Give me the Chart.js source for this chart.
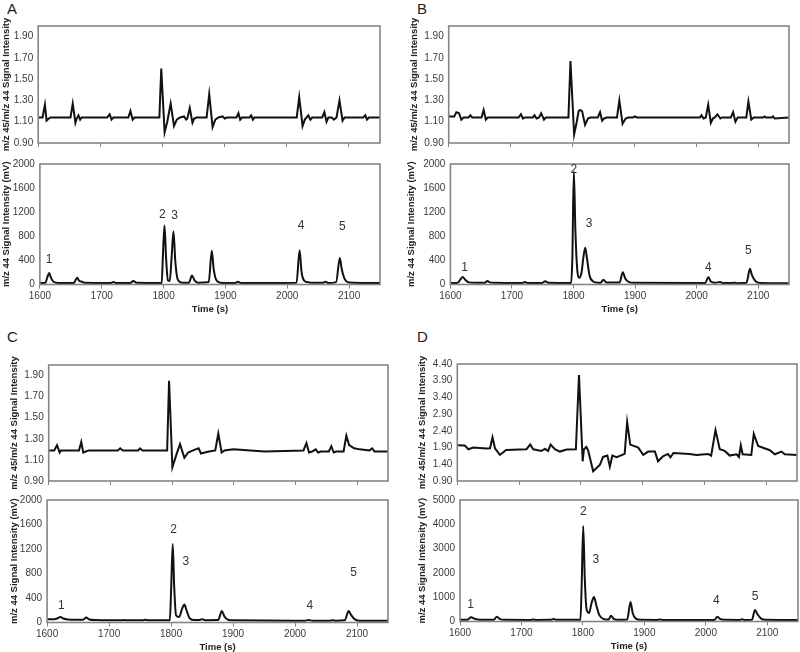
<!DOCTYPE html>
<html>
<head>
<meta charset="utf-8">
<script src="https://cdn.jsdelivr.net/npm/chart.js@4.4.0/dist/chart.umd.min.js"></script>
<style>
  body { margin: 0; background: #fff; }
  #page { position: relative; width: 800px; height: 652px; overflow: hidden; font-family: "Liberation Sans", Arial, sans-serif; }
  canvas { position: absolute; }
  .tag { position: absolute; font-size: 15px; color: #222; }
</style>
</head>
<body>
<div id="page">
  <div class="tag" style="left:7px;top:0px">A</div>
  <div class="tag" style="left:417px;top:0px">B</div>
  <div class="tag" style="left:7px;top:328px">C</div>
  <div class="tag" style="left:417px;top:328px">D</div>
</div>
<script>
// axis ticks
const timeTicks = [1600, 1700, 1800, 1900, 2000, 2100];
const ratioTicks = [0.9, 1.1, 1.3, 1.5, 1.7, 1.9];
const ratioTicksD = [0.9, 1.4, 1.9, 2.4, 2.9, 3.4, 3.9, 4.4];
const intTicks = [0, 400, 800, 1200, 1600, 2000];
const intTicksD = [0, 1000, 2000, 3000, 4000, 5000];
const peakNames = ["1", "2", "3", "4", "5"];

// [time (s), value]
const aRatio = [[1600,1.14],[1607,1.14],[1610.8,1.26],[1613.5,1.11],[1617,1.13],[1620,1.14],[1652,1.14],[1655.6,1.27],[1659.9,1.09],[1662,1.13],[1664.8,1.16],[1667.5,1.12],[1670,1.14],[1711,1.14],[1715,1.17],[1718,1.12],[1721,1.14],[1745,1.14],[1748.4,1.20],[1752,1.12],[1755,1.14],[1795,1.14],[1798,1.60],[1803.4,1.00],[1807.7,1.10],[1813.1,1.27],[1818.5,1.06],[1823,1.12],[1828,1.14],[1834.7,1.15],[1838,1.12],[1840,1.13],[1843.9,1.23],[1848.2,1.09],[1851,1.13],[1855,1.14],[1871,1.14],[1875.2,1.36],[1880.6,1.05],[1885,1.12],[1890,1.14],[1896.8,1.15],[1900,1.13],[1904,1.14],[1919,1.14],[1922.2,1.18],[1925,1.12],[1928,1.14],[1940,1.14],[1942.7,1.16],[1945.5,1.12],[1948,1.14],[2016,1.14],[2020,1.33],[2025.4,1.06],[2029,1.12],[2034.6,1.16],[2038,1.12],[2041,1.14],[2057,1.14],[2060.5,1.19],[2064,1.10],[2067,1.14],[2072.4,1.14],[2076,1.12],[2080,1.14],[2084.8,1.30],[2089.7,1.11],[2093,1.14],[2123,1.14],[2126.4,1.16],[2129,1.12],[2132,1.14],[2150,1.14]];
const aInt = [[1600,25],[1609,30],[1612,120],[1615,190],[1618,110],[1622,45],[1630,25],[1655,25],[1658,80],[1660.5,110],[1664,55],[1667,50],[1672,28],[1714,25],[1719,40],[1724,25],[1746,25],[1751,60],[1756,28],[1797,25],[1799,500],[1801.5,980],[1804,450],[1807,70],[1810,60],[1813,450],[1816,880],[1819,380],[1823,80],[1830,30],[1841,30],[1846,150],[1850,70],[1856,30],[1873,40],[1878,560],[1881,260],[1885,80],[1892,30],[1916,25],[1920,45],[1925,25],[2015,30],[2020,570],[2023,220],[2027,70],[2035,35],[2058,30],[2062,45],[2066,25],[2079,40],[2085,440],[2088,260],[2093,90],[2100,35],[2150,25]];
const aPeakT = [1615, 1798, 1817.7, 2022.5, 2089];
const aPeakV = [410, 1166, 1150, 977, 961];

const bRatio = [[1600,1.15],[1609,1.15],[1612.4,1.19],[1616.7,1.18],[1620.4,1.12],[1624,1.14],[1632,1.14],[1635,1.16],[1638,1.14],[1653,1.14],[1656.5,1.21],[1660,1.12],[1663,1.14],[1713,1.14],[1716.7,1.17],[1720,1.13],[1723,1.14],[1736,1.14],[1738.7,1.16],[1742,1.13],[1746,1.14],[1749.5,1.18],[1754,1.12],[1757,1.14],[1793.5,1.14],[1796.8,1.67],[1802.7,0.98],[1807,1.10],[1810,1.20],[1812.4,1.21],[1815.6,1.20],[1820.4,1.07],[1825,1.13],[1829,1.14],[1841,1.14],[1844.6,1.19],[1848,1.11],[1851,1.13],[1855,1.14],[1872,1.14],[1875.8,1.30],[1881,1.08],[1886,1.13],[1890,1.14],[1898,1.14],[1901,1.15],[1904,1.14],[2006,1.14],[2008.6,1.16],[2012,1.13],[2015.5,1.14],[2019.4,1.26],[2023.7,1.09],[2027,1.13],[2030,1.14],[2034.4,1.17],[2039,1.13],[2042,1.14],[2056,1.14],[2059.7,1.19],[2063.4,1.10],[2067,1.14],[2081,1.14],[2084.4,1.29],[2089,1.12],[2093,1.14],[2108,1.14],[2110.7,1.15],[2113,1.14],[2122,1.14],[2124.2,1.15],[2127,1.13],[2150,1.14]];
const bInt = [[1600,25],[1612,30],[1616,80],[1620,125],[1624,80],[1630,35],[1640,28],[1656,28],[1660,60],[1664,35],[1670,28],[1716,25],[1721,40],[1726,25],[1749,25],[1754,55],[1759,28],[1796,25],[1798,400],[1800.5,1880],[1803,900],[1806,250],[1809,110],[1813,200],[1816,450],[1819,610],[1822,420],[1826,150],[1832,50],[1840,30],[1844,30],[1848.6,80],[1853,35],[1875,35],[1880,205],[1884,100],[1890,40],[1898,28],[2014,25],[2019,125],[2023,50],[2030,30],[2038,40],[2043,25],[2058,25],[2062,30],[2066,22],[2081,30],[2086.5,260],[2090,150],[2096,50],[2104,25],[2150,22]];
const bPeakT = [1623, 1800.5, 1825.4, 2019, 2083.8];
const bPeakV = [286, 1900, 1015, 286, 567];

const cRatio = [[1600,1.19],[1609,1.19],[1613.5,1.24],[1617.8,1.17],[1620,1.19],[1649,1.19],[1652.8,1.27],[1656,1.17],[1660,1.18],[1665,1.19],[1712,1.19],[1715.9,1.21],[1720,1.19],[1745,1.19],[1748.2,1.21],[1752,1.19],[1792,1.19],[1795.1,1.85],[1800.5,1.03],[1807.5,1.16],[1812.9,1.25],[1819.9,1.12],[1826,1.17],[1834,1.19],[1843,1.21],[1846.9,1.16],[1853,1.17],[1860,1.18],[1870,1.19],[1874.9,1.35],[1880.3,1.17],[1885,1.19],[1899,1.20],[1950,1.18],[2013,1.19],[2017.8,1.26],[2022,1.17],[2027,1.18],[2032.9,1.20],[2036.7,1.17],[2041,1.18],[2054,1.18],[2058.2,1.23],[2062,1.17],[2066,1.18],[2078,1.18],[2082.5,1.33],[2087,1.24],[2095,1.21],[2104,1.20],[2120,1.19],[2124.5,1.21],[2128,1.18],[2150,1.18]];
const cInt = [[1600,55],[1612,55],[1617,70],[1621.5,90],[1626,65],[1634,50],[1658,45],[1663,80],[1668,50],[1680,40],[1720,35],[1725,40],[1730,35],[1754,35],[1758.6,45],[1763,35],[1798,35],[1800,500],[1802.7,1280],[1805,600],[1808,120],[1813,90],[1818,230],[1821.5,293],[1825,200],[1830,70],[1838,40],[1845,40],[1850,55],[1855,38],[1876,40],[1882,187],[1886,100],[1892,45],[1900,35],[2016,30],[2022,40],[2028,30],[2056,30],[2061,35],[2066,28],[2080,35],[2086.6,187],[2090,130],[2096,55],[2104,30],[2150,28]];
const cPeakT = [1623, 1804, 1824, 2023.7, 2094.6];
const cPeakV = [267, 1520, 997, 277, 810];

const dRatio = [[1600,1.97],[1612,1.96],[1618,1.85],[1626,1.90],[1647,1.87],[1653,1.88],[1657,2.21],[1661,1.88],[1669,1.68],[1679,1.83],[1712,1.85],[1718,1.99],[1723,1.85],[1736,1.80],[1742,1.86],[1747,1.80],[1751,1.99],[1758,1.85],[1766,1.78],[1777,1.84],[1792,1.85],[1797,4.07],[1803,1.49],[1805,1.85],[1809,1.92],[1812,1.80],[1820,1.19],[1831,1.39],[1836,1.62],[1843,1.66],[1847,1.33],[1851,1.66],[1858,1.61],[1871,1.71],[1875,2.66],[1880,1.99],[1893,1.90],[1901,1.68],[1909,1.78],[1920,1.78],[1925,1.49],[1933,1.64],[1941,1.71],[1945,1.61],[1950,1.74],[1976,1.71],[1987,1.68],[2006,1.71],[2011,1.66],[2018,2.42],[2025,1.85],[2033,1.80],[2041,1.66],[2052,1.70],[2056,1.62],[2059,1.97],[2062,1.70],[2076,1.68],[2080,2.31],[2087,1.95],[2106,1.82],[2114,1.70],[2125,1.78],[2130,1.70],[2150,1.68]];
const dInt = [[1600,70],[1612,75],[1618,174],[1624,110],[1632,70],[1655,70],[1660,200],[1665,100],[1672,70],[1715,65],[1719,80],[1724,65],[1748,70],[1752,107],[1757,70],[1796,70],[1798,1500],[1800.5,3930],[1803,1800],[1806,500],[1810,350],[1814,750],[1818,1005],[1822,650],[1827,250],[1834,100],[1840,80],[1842,80],[1845.5,240],[1850,110],[1856,70],[1872,80],[1877.5,800],[1881,350],[1886,120],[1894,70],[1920,65],[1925,80],[1930,65],[2014,65],[2019,200],[2023,110],[2030,70],[2055,65],[2059,90],[2063,65],[2075,70],[2080,470],[2084,300],[2090,120],[2098,70],[2150,60]];
const dPeakT = [1617.3, 1800.5, 1821, 2017.3, 2080];
const dPeakV = [710, 4515, 2546, 870, 1030];

const FONT = '"Liberation Sans", Arial, sans-serif';
const TICK_COLOR = '#3a3a3a';

// box around the plot area
const framePlugin = {
  id: 'frame',
  afterDatasetsDraw(chart) {
    const a = chart.chartArea;
    const ctx = chart.ctx;
    ctx.save();
    ctx.strokeStyle = '#858585';
    ctx.lineWidth = 1.6;
    ctx.strokeRect(a.left, a.top, a.right - a.left, a.bottom - a.top);
    ctx.restore();
  }
};

// numbers over the peaks
const peakPlugin = {
  id: 'peaks',
  afterDatasetsDraw(chart, args, opts) {
    if (!opts.t) return;
    const ctx = chart.ctx;
    ctx.save();
    ctx.font = '12px ' + FONT;
    ctx.fillStyle = '#333';
    ctx.textAlign = 'center';
    ctx.textBaseline = 'middle';
    opts.t.forEach((t, i) => {
      const x = chart.scales.x.getPixelForValue(t);
      const y = chart.scales.y.getPixelForValue(opts.v[i]);
      ctx.fillText(peakNames[i], x, y);
    });
    ctx.restore();
  }
};

function makeChart(cfg) {
  const page = document.getElementById('page');
  const canvas = document.createElement('canvas');
  const pt = 8, pr = 4;
  const xh = cfg.bottom ? 32.5 : 8;
  const yw = cfg.L - cfg.cx;
  const w = Math.round(cfg.R - cfg.cx + pr);
  const h = Math.round(cfg.B - cfg.T + pt + xh);
  canvas.width = w;
  canvas.height = h;
  canvas.style.left = cfg.cx + 'px';
  canvas.style.top = (cfg.T - pt) + 'px';
  canvas.style.width = w + 'px';
  canvas.style.height = h + 'px';
  page.appendChild(canvas);

  new Chart(canvas.getContext('2d'), {
    type: 'line',
    data: {
      datasets: [{
        data: cfg.data.map(p => ({ x: p[0], y: p[1] })),
        borderColor: '#111',
        borderWidth: 2,
        pointRadius: 0,
        fill: false,
        tension: cfg.smooth ? 0.4 : 0,
        cubicInterpolationMode: cfg.smooth ? 'monotone' : 'default'
      }]
    },
    options: {
      responsive: false,
      animation: false,
      devicePixelRatio: 1,
      layout: { padding: { top: pt, right: pr, left: 0, bottom: 0 } },
      plugins: {
        legend: { display: false },
        tooltip: { enabled: false },
        peaks: { t: cfg.peakT, v: cfg.peakV }
      },
      scales: {
        x: {
          type: 'linear',
          min: 1600,
          max: 2150,
          afterBuildTicks: s => { s.ticks = timeTicks.map(v => ({ value: v })); },
          afterFit: s => { s.height = xh; },
          grid: { drawOnChartArea: false, drawTicks: true, tickLength: 4, color: '#858585' },
          border: { display: false },
          ticks: { display: !!cfg.bottom, padding: 2, maxRotation: 0, autoSkip: false, color: TICK_COLOR, font: { family: FONT, size: 10 }, callback: v => String(v) },
          title: { display: !!cfg.bottom, text: 'Time (s)', color: '#222', padding: { top: 0, bottom: 2 }, font: { family: FONT, size: 9.5, weight: 'bold' } }
        },
        y: {
          min: cfg.yMin,
          max: cfg.yMax,
          afterBuildTicks: s => { s.ticks = cfg.yTicks.map(v => ({ value: v })); },
          afterFit: s => { s.width = yw; },
          grid: { display: false, drawTicks: false },
          border: { display: false },
          ticks: { padding: 5, color: TICK_COLOR, font: { family: FONT, size: 10 }, callback: v => v.toFixed(cfg.dec) },
          title: { display: true, text: cfg.yTitle, color: '#222', padding: { top: 2, bottom: 2 }, font: { family: FONT, size: 9.5, weight: 'bold' } }
        }
      }
    },
    plugins: [framePlugin, peakPlugin]
  });
}

const ratioTitle = 'm/z 45/m/z 44 Signal Intensity';
const intTitle = 'm/z 44 Signal Intensity (mV)';

// A
makeChart({ cx: -0.7, L: 38.5, T: 23, R: 380, B: 146, data: aRatio, yMin: 0.9, yMax: 2.0, yTicks: ratioTicks, dec: 2, yTitle: ratioTitle });
makeChart({ cx: -0.9, L: 40, T: 161, R: 380, B: 284, data: aInt, yMin: 0, yMax: 2000, yTicks: intTicks, dec: 0, yTitle: intTitle, bottom: true, smooth: true, peakT: aPeakT, peakV: aPeakV });
// B
makeChart({ cx: 406.6, L: 448.3, T: 23, R: 789, B: 146, data: bRatio, yMin: 0.9, yMax: 2.0, yTicks: ratioTicks, dec: 2, yTitle: ratioTitle });
makeChart({ cx: 403.6, L: 450, T: 161, R: 789, B: 284, data: bInt, yMin: 0, yMax: 2000, yTicks: intTicks, dec: 0, yTitle: intTitle, bottom: true, smooth: true, peakT: bPeakT, peakV: bPeakV });
// C
makeChart({ cx: 6.6, L: 48.3, T: 361.7, R: 388, B: 484, data: cRatio, yMin: 0.9, yMax: 2.0, yTicks: ratioTicks, dec: 2, yTitle: ratioTitle });
makeChart({ cx: 6.6, L: 46.7, T: 496.7, R: 387.7, B: 621.7, data: cInt, yMin: 0, yMax: 2000, yTicks: intTicks, dec: 0, yTitle: intTitle, bottom: true, smooth: true, peakT: cPeakT, peakV: cPeakV });
// D
makeChart({ cx: 415, L: 457.3, T: 360.7, R: 797.3, B: 483.3, data: dRatio, yMin: 0.9, yMax: 4.4, yTicks: ratioTicksD, dec: 2, yTitle: ratioTitle });
makeChart({ cx: 415, L: 460, T: 497.3, R: 798, B: 621.7, data: dInt, yMin: 0, yMax: 5000, yTicks: intTicksD, dec: 0, yTitle: intTitle, bottom: true, smooth: true, peakT: dPeakT, peakV: dPeakV });
</script>
</body>
</html>
